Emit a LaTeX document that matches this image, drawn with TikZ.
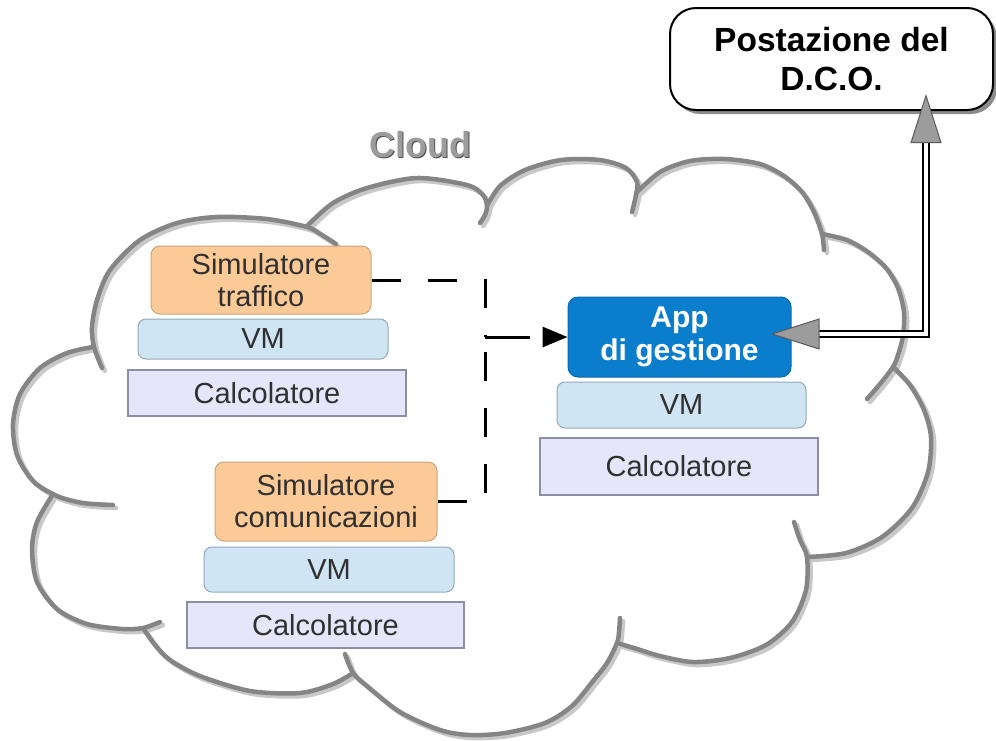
\documentclass[tikz,border=0pt]{standalone}
\usepackage{fontspec}
\setmainfont{Liberation Sans}
\usetikzlibrary{arrows.meta,shadows,calc}

\definecolor{cloudline}{HTML}{858585}
\definecolor{cloudshade}{HTML}{C8C8C8}
\definecolor{simfill}{HTML}{FCCA96}
\definecolor{simedge}{HTML}{C9A67E}
\definecolor{vmfill}{HTML}{CFE5F3}
\definecolor{vmedge}{HTML}{93A9B9}
\definecolor{calcfill}{HTML}{E6E6FA}
\definecolor{calcedge}{HTML}{8E8EA2}
\definecolor{appfill}{HTML}{0A7DCC}
\definecolor{appedge}{HTML}{0A6AB0}
\definecolor{textgray}{HTML}{303030}
\definecolor{headgray}{HTML}{9C9C9C}
\definecolor{headshade}{HTML}{505050}
\definecolor{tipfill}{HTML}{9C9C9C}
\definecolor{tipedge}{HTML}{5A5A5A}

% outline of the cloud, one smooth stroke per lobe
\newcommand\cloudoutline[1]{%
  \draw[#1] plot[smooth] coordinates {(113,505) (83,503) (57,496) (33,481) (17,455) (13,424) (20,394) (40,368) (67,353) (93,347)};
  \draw[#1] plot[smooth] coordinates {(102,368) (94,347) (92,327) (97,300) (110,270) (140,240) (177,223) (217,217) (267,219) (307,227) (322,235) (336,244)};
  \draw[#1] plot[smooth] coordinates {(307,226) (333,203) (367,188) (417,178) (467,185) (483,195) (487,206) (485,215) (480,223)};
  \draw[#1] plot[smooth] coordinates {(487,206) (500,186) (525,170) (561,160) (600,160) (626,168) (637,182) (636,195) (632,212)};
  \draw[#1] plot[smooth] coordinates {(636,193) (660,172) (690,161) (725,159) (760,164) (784,176) (802,192) (814,212) (822,234) (824,250)};
  \draw[#1] plot[smooth] coordinates {(822,234) (847,240) (868,252) (886,268) (898,288) (904,312) (903,336) (898,355) (893,367) (880,384) (867,399)};
  \draw[#1] plot[smooth] coordinates {(893,367) (910,385) (924,410) (931,437) (928,472) (912,508) (882,537) (846,553) (807,557)};
  \draw[#1] plot[smooth] coordinates {(794,522) (800,540) (807,557) (806,590) (792,622) (766,645) (730,658) (693,662) (660,656) (634,648) (617,643)};
  \draw[#1] plot[smooth] coordinates {(620,618) (619,632) (617,643) (607,663) (593,681) (572,706) (545,723) (505,733) (470,735) (440,730) (400,712) (367,686) (353,673) (345,654)};
  \draw[#1] plot[smooth] coordinates {(353,673) (333,684) (300,693) (250,691) (200,676) (170,660) (155,645) (143,628)};
  \draw[#1] plot[smooth] coordinates {(160,622) (143,628) (123,629) (87,624) (57,609) (37,582) (32,549) (37,522) (53,494)};
}

\begin{document}
\begin{tikzpicture}[x=1pt,y=-1pt,
  cloudedge/.style={draw=cloudline,line width=4.5pt,line cap=round},
  cloudshadow/.style={draw=cloudshade,line width=4.5pt,line cap=round,shift={(3,3)}},
  boxtext/.style={font=\fontsize{29}{32}\selectfont,text=textgray,align=center,inner sep=0pt},
  simbox/.style={boxtext,draw=simedge,fill=simfill,rounded corners=9pt,line width=1pt},
  vmbox/.style={boxtext,draw=vmedge,fill=vmfill,rounded corners=8pt,line width=1pt},
  calcbox/.style={boxtext,draw=calcedge,fill=calcfill,line width=1.2pt},
  appbox/.style={font=\bfseries\fontsize{30}{33}\selectfont,text=white,align=center,inner sep=0pt,
    draw=appedge,fill=appfill,rounded corners=10pt,line width=1pt},
  dcobox/.style={font=\bfseries\fontsize{33.5}{39}\selectfont,text=black,align=center,inner sep=0pt,
    draw=black,fill=white,rounded corners=26pt,line width=2pt,
    drop shadow={shadow xshift=4pt,shadow yshift=-4pt,fill=black!45,opacity=1}},
  heading/.style={font=\bfseries\fontsize{36}{42}\selectfont,inner sep=0pt,anchor=base},
  dashconn/.style={draw=black,line width=3pt,dash pattern=on 29pt off 27pt},
  dblline/.style={draw=black,line width=1.3pt,double=white,double distance=4.5pt},
  bigtip/.tip={Triangle[length=49pt,width=31pt,color=tipedge,fill=tipfill,line width=1pt]}
]
\useasboundingbox (0,0) rectangle (996,740);

% cloud
\cloudoutline{cloudshadow}
\cloudoutline{cloudedge}

% cloud heading with its shadow
\node[heading,text=headshade] (cloudshade) at (421.5,158.5) {Cloud};
\node[heading,text=headgray] (cloudlabel) at (420,157) {Cloud};

% left stacks
\node[simbox,minimum width=220pt,minimum height=68pt] (simt) at (261,280) {Simulatore\\traffico};
\node[vmbox,minimum width=250pt,minimum height=40pt] (vmt) at (263,339) {VM};
\node[calcbox,minimum width=278pt,minimum height=46pt] (calct) at (267,393) {Calcolatore};

\node[simbox,minimum width=222pt,minimum height=79pt] (simc) at (326,501.5) {Simulatore\\comunicazioni};
\node[vmbox,minimum width=250pt,minimum height=45pt] (vmc) at (329,569.5) {VM};
\node[calcbox,minimum width=277pt,minimum height=46pt] (calcc) at (325.5,625) {Calcolatore};

% right stack
\node[appbox,minimum width=223pt,minimum height=80pt] (app) at (679.5,337) {App\\di gestione};
\node[vmbox,minimum width=249pt,minimum height=46pt] (vma) at (681.5,405) {VM};
\node[calcbox,minimum width=278pt,minimum height=57pt] (calca) at (679,466.5) {Calcolatore};

% operator workstation
\node[dcobox,minimum width=323pt,minimum height=102pt] (dco) at (831.5,59) {Postazione del\\D.C.O.};

% dashed data flow from the simulators
\coordinate (jn) at (485,337);
\draw[dashconn] (simt.east) -| (jn);
\draw[dashconn] (simc.east) -| (jn);
\draw[dashconn,dash pattern=on 45pt off 20pt,-{Triangle[length=25pt,width=20pt]}] (jn) -- (app.west);

% double link between the app and the workstation
\coordinate (bend) at (926,334);
\draw[dblline,{bigtip}-{bigtip},shorten <=-21pt,shorten >=-17pt] (app.east |- bend) -- (bend) -- (bend |- dco.south);
\end{tikzpicture}
\end{document}
